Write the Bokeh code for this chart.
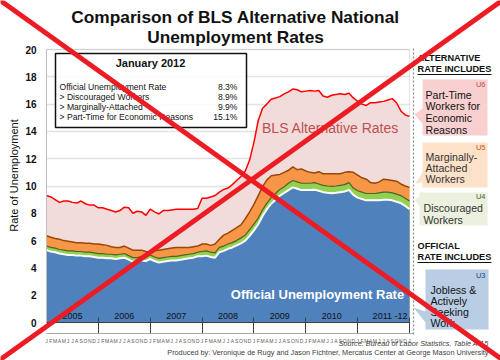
import math
from bokeh.plotting import figure
from bokeh.models import (Label, PolyAnnotation, BoxAnnotation, FixedTicker, AllLabels,
                          ColumnDataSource, Range1d)
from bokeh.core.properties import value
from bokeh.embed import file_html
from bokeh.resources import INLINE

# ---------------- data ----------------
MONTH_LETTERS = ["J", "F", "M", "A", "M", "J", "J", "A", "S", "O", "N", "D"]
YEAR_LABELS = ["2005", "2006", "2007", "2008", "2009", "2010", "2011 -12"]
Y_TICKS = [0, 2, 4, 6, 8, 10, 12, 14, 16, 18, 20]

U3 = [5.3, 5.2, 5.15, 5.05, 5.0, 4.95, 4.95, 4.9, 4.9, 4.85, 4.85, 4.8,
      4.75, 4.75, 4.7, 4.7, 4.65, 4.7, 4.75, 4.6, 4.45, 4.45, 4.55, 4.5,
      4.65, 4.5, 4.4, 4.45, 4.5, 4.55, 4.55, 4.6, 4.65, 4.7, 4.75, 4.85,
      4.85, 4.9, 4.8, 4.75, 5.15, 5.25, 5.4, 5.5, 5.65, 5.8, 6.0, 6.35,
      6.75, 7.2, 7.8, 8.3, 8.7, 9.0, 9.3, 9.5, 9.7, 9.9, 9.8, 9.7,
      9.7, 9.7, 9.72, 9.65, 9.55, 9.5, 9.47, 9.5, 9.55, 9.6, 9.72, 9.35,
      9.15, 9.05, 8.95, 8.95, 8.95, 8.95, 9.0, 9.0, 8.95, 8.85, 8.75, 8.55,
      8.3]
U4 = [5.6, 5.5, 5.45, 5.35, 5.3, 5.25, 5.25, 5.2, 5.2, 5.15, 5.15, 5.1,
      5.05, 5.05, 5.0, 5.0, 4.95, 5.0, 5.05, 4.9, 4.75, 4.75, 4.85, 4.8,
      4.95, 4.8, 4.7, 4.75, 4.8, 4.85, 4.85, 4.9, 4.95, 5.0, 5.05, 5.15,
      5.2, 5.25, 5.15, 5.1, 5.5, 5.6, 5.75, 5.85, 6.0, 6.2, 6.4, 6.8,
      7.2, 7.65, 8.25, 8.75, 9.15, 9.45, 9.75, 9.95, 10.2, 10.4, 10.3, 10.2,
      10.2, 10.2, 10.25, 10.15, 10.05, 10.0, 9.97, 10.0, 10.05, 10.1, 10.25, 9.85,
      9.65, 9.55, 9.45, 9.45, 9.45, 9.5, 9.55, 9.55, 9.5, 9.4, 9.3, 9.1,
      8.9]
U5 = [6.35, 6.25, 6.15, 6.1, 6.0, 5.95, 5.9, 5.85, 5.85, 5.8, 5.8, 5.75,
      5.75, 5.7, 5.65, 5.55, 5.5, 5.5, 5.6, 5.45, 5.3, 5.3, 5.3, 5.2,
      5.15, 5.25, 5.3, 5.35, 5.4, 5.45, 5.5, 5.5, 5.5, 5.5, 5.55, 5.6,
      5.75, 5.75, 5.65, 5.75, 6.1, 6.4, 6.55, 6.75, 6.95, 7.15, 7.6, 8.1,
      8.65, 9.3, 9.95, 10.45, 10.75, 10.8, 10.85, 11.0, 11.15, 11.4, 11.2, 11.25,
      11.1, 11.0, 10.95, 11.05, 10.9, 10.9, 10.9, 10.9, 10.9, 11.0, 11.05, 11.0,
      10.8, 10.6, 10.5, 10.25, 10.2, 10.3, 10.5, 10.45, 10.4, 10.35, 10.15, 10.0,
      9.9]
U6 = [9.3, 9.2, 9.0, 8.8, 8.9, 8.9, 8.8, 8.75, 8.9, 8.7, 8.6, 8.6,
      8.4, 8.4, 8.3, 8.2, 8.1, 8.2, 8.45, 8.4, 8.0, 8.15, 8.1, 7.85,
      8.3, 8.1, 7.95, 8.2, 8.2, 8.25, 8.3, 8.3, 8.3, 8.3, 8.3, 8.35,
      9.1, 9.1, 9.2, 9.3, 9.55, 9.75, 9.85, 10.1, 10.4, 10.7, 11.1, 11.9,
      13.2, 14.8, 15.7, 16.0, 16.35, 16.45, 16.55, 16.75, 16.9, 17.1, 17.05, 16.9,
      16.95, 17.0, 16.95, 17.0, 16.6, 16.5, 16.65, 16.7, 16.75, 16.7, 16.8, 16.45,
      16.2, 16.0, 15.9, 16.1, 16.1, 16.15, 16.2, 16.3, 16.4, 16.1, 15.5, 15.2,
      15.1]

LEGEND_TITLE = "January 2012"
LEGEND_ROWS = ["Official Unemployment Rate", " > Discouraged Workers",
               " > Marginally-Attached", " > Part-Time for Economic Reasons"]

N = len(U3)
months = list(range(N))
src = ColumnDataSource(dict(m=months, u3=U3, u4=U4, u5=U5, u6=U6))

FONT = "Liberation Sans"

# page geometry (pixels): canvas and the chart's plot area inside it
W, H = 500, 360
PL, PT, PR, PB = 46, 49, 409, 322          # plot area edges
X0, X1 = 0, N - 1                          # month span of the plot area
Y0, Y1 = Y_TICKS[0], Y_TICKS[-1]           # value span of the plot area
kx = (X1 - X0) / (PR - PL)
ky = (Y1 - Y0) / (PB - PT)

p = figure(width=W, height=H, min_border=0,
           x_range=Range1d(X0 - PL * kx, X1 + (W - PR) * kx),
           y_range=Range1d(Y0 - (H - PB) * ky, Y1 + PT * ky),
           output_backend="svg", toolbar_location=None,
           background_fill_color="white", border_fill_color="white")
p.title.visible = False
p.outline_line_color = None

# plot area border
p.add_layout(BoxAnnotation(left=X0, right=X1, bottom=Y0, top=Y1, fill_alpha=0,
                           line_color="#A6A6A6", line_width=1, level="underlay"))

# ---------------- areas ----------------
p.varea(x="m", y1=0, y2="u6", source=src, fill_color="#F2DCDB")
p.line("m", "u6", source=src, line_color="#FF0000", line_width=1.5)
p.varea(x="m", y1=0, y2="u5", source=src, fill_color="#F79646")
p.line("m", "u5", source=src, line_color="#984807", line_width=1.5)
p.varea(x="m", y1=0, y2="u4", source=src, fill_color="#92D050")
p.line("m", "u4", source=src, line_color="#4F6228", line_width=1.2)
p.varea(x="m", y1=0, y2="u3", source=src, fill_color="#4F81BD")
p.line("m", "u3", source=src, line_color="white", line_width=2)

# ---------------- axes / grid ----------------
p.ygrid.ticker = FixedTicker(ticks=Y_TICKS)
p.ygrid.cross_bounds = (X0, X1)
p.ygrid.grid_line_color = "#E3E3E3"
p.ygrid.grid_line_width = 1.3
p.xgrid.visible = False

ya = p.yaxis[0]
ya.fixed_location = X0
ya.bounds = (Y0, Y1)
ya.ticker = FixedTicker(ticks=Y_TICKS)
ya.major_label_text_font = FONT
ya.major_label_text_font_style = "bold"
ya.major_label_text_font_size = "10px"
ya.major_label_text_color = "#111111"
ya.major_tick_in = 0
ya.major_tick_out = 0
ya.minor_tick_line_color = None
ya.axis_line_color = "#BFBFBF"
ya.major_label_standoff = 10

year_starts = [12 * i for i in range(1, 8)]
xa = p.xaxis[0]
xa.fixed_location = Y0
xa.bounds = (X0, X1)
xa.ticker = FixedTicker(ticks=months, minor_ticks=year_starts)
xa.major_label_overrides = {i: MONTH_LETTERS[i % 12] for i in months}
xa.major_label_policy = AllLabels()
xa.major_label_text_font = FONT
xa.major_label_text_font_size = "5px"
xa.major_label_text_color = "#595959"
xa.major_label_standoff = 4
xa.major_tick_in = 0
xa.major_tick_out = 0
xa.minor_tick_in = 5
xa.minor_tick_out = 11
xa.minor_tick_line_color = "#404040"
xa.minor_tick_line_width = 1
xa.axis_line_color = "#404040"
xa.axis_line_width = 1.2

# year labels inside the plot
year_mid = [12 * i + 6 for i in range(6)] + [79.5]
p.text(x=year_mid, y=[Y0] * len(year_mid), text=YEAR_LABELS, y_offset=-7,
       text_font=value(FONT), text_font_size="9px", text_color="#111111",
       text_align="center", text_baseline="middle")


# ---------------- helpers (page pixel -> screen units) ----------------
def sx(x):
    return x


def sy(y):
    return H - y


def label(x, y, text, size, color="#111111", bold=False, italic=False,
          align="left", angle=0.0):
    style = "bold" if bold else ("italic" if italic else "normal")
    p.add_layout(Label(x=sx(x), y=sy(y), x_units="screen", y_units="screen",
                       text=text, text_font=FONT, text_font_size=f"{size}px",
                       text_font_style=style, text_color=color,
                       text_align=align, text_baseline="middle", angle=angle))


def poly(pts, fill=None, line=None, lw=1.0, alpha=1.0, dash="solid"):
    p.add_layout(PolyAnnotation(xs=[sx(a) for a, b in pts], ys=[sy(b) for a, b in pts],
                                xs_units="screen", ys_units="screen",
                                fill_color=fill, fill_alpha=alpha if fill else 0,
                                line_color=line, line_width=lw, line_dash=dash,
                                line_alpha=1.0 if line else 0))


# ---------------- title ----------------
label(235, 16.5, "Comparison of BLS Alternative National", 17.3, bold=True, align="center")
label(235, 36.5, "Unemployment Rates", 17.3, bold=True, align="center")

# y-axis title
label(13, 175, "Rate of Unemployment", 11, align="center", angle=math.pi / 2)

# ---------------- in-plot legend box ----------------
poly([(55, 53), (246, 53), (246, 127), (55, 127)], fill="white", line="#111111",
     lw=1.5, alpha=0.85)
label(150, 62, LEGEND_TITLE, 11, bold=True, align="center")
vals = [U3[-1], U4[-1], U5[-1], U6[-1]]
for k, (row, v) in enumerate(zip(LEGEND_ROWS, vals)):
    yy = 86 + 10 * k
    label(59, yy, row, 8.6)
    label(237, yy, f"{v:.1f}%", 8.6, align="right")

label(330, 127, "BLS Alternative Rates", 14, color="#C0504D", align="center")
label(317, 294, "Official Unemployment Rate", 13, color="white", bold=True, align="center")

# ---------------- separators ----------------
poly([(413, 48), (413, 335)], line="#8C8C8C", lw=1.2, dash="2 2")
poly([(46, 333), (413, 333)], line="#A6A6A6", lw=1)

# ---------------- right panel ----------------
label(417, 57, "ALTERNATIVE", 9.2, bold=True)
label(417, 68, "RATE INCLUDES", 9.2, bold=True)
poly([(417, 74), (491, 74)], line="#111111", lw=1.2)

poly([(422, 79), (487, 79), (487, 135), (422, 135), (422, 123), (414, 114), (422, 108)],
     fill="#F8D0D0")
label(485, 84, "U6", 7.5, color="#C0504D", align="right")
for k, t in enumerate(["Part-Time", "Workers for", "Economic", "Reasons"]):
    label(425, 94 + 11.7 * k, t, 10.6)

poly([(422, 142), (487, 142), (487, 187), (422, 187), (422, 182), (415, 183), (422, 172)],
     fill="#FDE1C9")
label(485, 147, "U5", 7.5, color="#C65911", align="right")
for k, t in enumerate(["Marginally-", "Attached", "Workers"]):
    label(425, 156 + 11 * k, t, 10.6, color="#333333")

poly([(419, 192), (487, 192), (487, 225), (419, 225), (419, 205), (414, 200), (419, 196)],
     fill="#EBF1DE")
label(485, 196, "U4", 7.5, color="#4F6228", align="right")
for k, t in enumerate(["Discouraged", "Workers"]):
    label(423, 207 + 12 * k, t, 10.6, color="#333333")

label(417, 245, "OFFICIAL", 9.2, bold=True)
label(417, 256, "RATE INCLUDES", 9.2, bold=True)
poly([(417, 262), (491, 262)], line="#111111", lw=1.2)

poly([(425, 269), (488, 269), (488, 329), (425, 329), (425, 322), (413, 307), (425, 311)],
     fill="#B9CDE5")
label(485, 275, "U3", 7.5, color="#1F497D", align="right")
for k, t in enumerate(["Jobless &", "Actively", "Seeking", "Work"]):
    label(430, 289 + 11.3 * k, t, 10.6)

# ---------------- footer ----------------
label(488, 343, "Source: Bureau of Labor Statistics, Table A-15", 7.3,
      color="#404040", italic=True, align="right")
label(488, 352, "Produced by: Veronique de Rugy and Jason Fichtner, Mercatus Center at George Mason University",
      7.3, color="#404040", align="right")

# ---------------- big red X ----------------
poly([(-10, -7), (510, 365)], line="#ED1C24", lw=5)
poly([(510, -6), (-10, 366)], line="#ED1C24", lw=5)

open("out.html", "w").write(file_html(p, INLINE))
